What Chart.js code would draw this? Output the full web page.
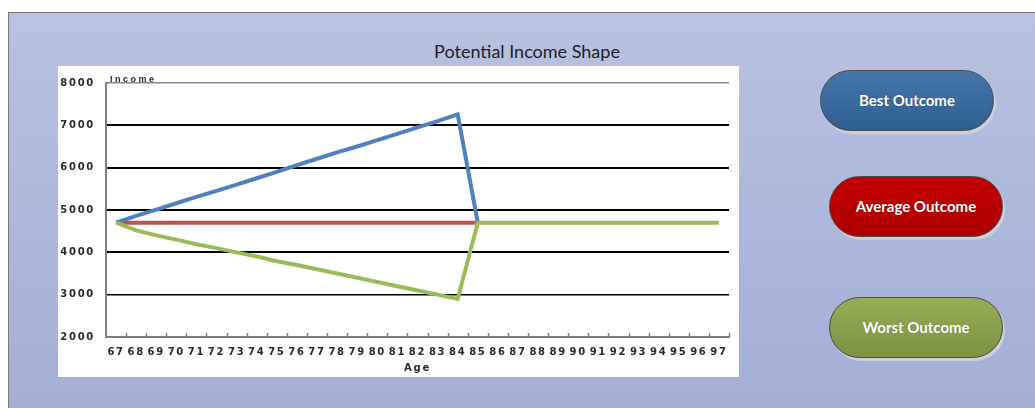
<!DOCTYPE html>
<html>
<head>
<meta charset="utf-8">
<title>Potential Income Shape</title>
<script src="https://cdn.jsdelivr.net/npm/chart.js@4.4.1/dist/chart.umd.min.js"></script>
<style>
  html, body { margin: 0; padding: 0; width: 1035px; height: 408px; overflow: hidden; background: #fff; }
  .panel {
    position: absolute; left: 8px; top: 12px; width: 1027px; height: 396px; box-sizing: border-box;
    border-top: 1.5px solid #7a7a7a; border-left: 1.5px solid #7a7a7a;
    background: linear-gradient(#b8c1e1, #a4afd6);
  }
  .title {
    position: absolute; left: 327px; width: 400px; top: 40px; line-height: 24px;
    text-align: center; font: 18px Lato, "Open Sans", sans-serif; color: #1e1e1e;
  }
  .chart-box { position: absolute; left: 58px; top: 66px; width: 681px; height: 311px; background: #fff; }
  .btn {
    position: absolute; width: 174px; height: 61px; box-sizing: border-box; border-radius: 31px;
    border: 1.5px solid #4a4a4a; box-shadow: 2px 3px 1px rgba(212, 212, 212, 0.9);
    color: #fff; font: bold 15px Lato, "Open Sans", sans-serif; text-align: center; line-height: 58px;
    text-shadow: 0 0 1px rgba(0, 0, 0, 0.3);
  }
  .best { left: 820px; top: 70px; background: linear-gradient(#4676a8, #2f5f8f); }
  .average { left: 829px; top: 176px; background: linear-gradient(#c40000, #ad0000); }
  .worst { left: 829px; top: 297px; background: linear-gradient(#98ad57, #7d9242); }
</style>
</head>
<body>
<div class="panel"></div>
<div class="title">Potential Income Shape</div>
<div class="chart-box"><canvas id="incomeChart"></canvas></div>
<div class="btn best">Best Outcome</div>
<div class="btn average">Average Outcome</div>
<div class="btn worst">Worst Outcome</div>

<script>
const ages = ['67','68','69','70','71','72','73','74','75','76','77','78','79','80','81','82',
  '83','84','85','86','87','88','89','90','91','92','93','94','95','96','97'];

const best = [4700, 4860, 5010, 5160, 5310, 5450, 5600, 5750, 5900, 6060, 6210, 6360, 6500, 6650,
  6800, 6950, 7100, 7260, 4700, null, null, null, null, null, null, null, null, null, null, null, null];

const average = [4700, 4700, 4700, 4700, 4700, 4700, 4700, 4700, 4700, 4700, 4700, 4700, 4700, 4700,
  4700, 4700, 4700, 4700, 4700, null, null, null, null, null, null, null, null, null, null, null, null];

const worst = [4700, 4520, 4400, 4300, 4190, 4100, 4000, 3900, 3790, 3700, 3600, 3500, 3400, 3300,
  3200, 3100, 3000, 2900, 4700, 4700, 4700, 4700, 4700, 4700, 4700, 4700, 4700, 4700, 4700, 4700, 4700];

const yTicks = [2000, 3000, 4000, 5000, 6000, 7000, 8000];

const labelFont = { family: '"DejaVu Sans", sans-serif', size: 10, weight: 'bold' };

// letter spaced labels, inside tick marks and the "Income" caption
const extras = {
  id: 'extras',
  beforeDraw(chart) {
    chart.ctx.letterSpacing = '1.7px';
  },
  afterDraw(chart) {
    const { ctx, chartArea, scales: { x } } = chart;
    ctx.save();
    ctx.strokeStyle = '#808080';
    ctx.lineWidth = 1.5;
    for (let i = 0; i <= ages.length; i++) {
      const px = Math.round(x.getPixelForValue(i - 0.5)) + 0.5;
      ctx.beginPath();
      ctx.moveTo(px, chartArea.bottom);
      ctx.lineTo(px, chartArea.bottom - 4);
      ctx.stroke();
    }
    ctx.letterSpacing = '2.5px';
    ctx.fillStyle = '#2a2a2a';
    ctx.font = 'bold 9px "Liberation Sans", Arial, sans-serif';
    ctx.textBaseline = 'bottom';
    ctx.textAlign = 'left';
    ctx.fillText('Income', chartArea.left + 4, chartArea.top + 1);
    ctx.restore();
  }
};

new Chart(document.getElementById('incomeChart'), {
  type: 'line',
  data: {
    labels: ages,
    datasets: [
      { label: 'Worst', data: worst, borderColor: '#9bbb59', order: 0 },
      { label: 'Best', data: best, borderColor: '#4f81bd', order: 1 },
      { label: 'Average', data: average, borderColor: '#c0504d', order: 2 }
    ]
  },
  options: {
    responsive: true,
    maintainAspectRatio: false,
    animation: false,
    layout: { padding: { left: 0, top: 8, right: 10, bottom: 0 } },
    elements: {
      line: { borderWidth: 4, tension: 0, fill: false },
      point: { radius: 0, hoverRadius: 0 }
    },
    plugins: {
      legend: { display: false },
      tooltip: { enabled: false }
    },
    scales: {
      x: {
        offset: true,
        grid: { display: false, offset: true },
        border: { display: true, color: '#808080', width: 2 },
        ticks: { color: '#2a2a2a', font: labelFont, padding: 1, autoSkip: false, maxRotation: 0 },
        title: { display: true, text: 'Age', color: '#2a2a2a', font: labelFont, padding: { top: 0, bottom: 3 } },
        afterFit(scale) { scale.height = 40; }
      },
      y: {
        min: yTicks[0],
        max: yTicks[yTicks.length - 1],
        afterBuildTicks(scale) { scale.ticks = yTicks.map(v => ({ value: v })); },
        grid: {
          drawTicks: false,
          color: ctx => ctx.tick && ctx.tick.value === 8000 ? '#8a8a8a' : '#000',
          lineWidth: ctx => {
            const v = ctx.tick ? ctx.tick.value : 0;
            if (v === 8000) return 1.5;
            if (v === 3000) return 1.5;
            return 2;
          }
        },
        border: { display: true, color: '#808080', width: 2 },
        ticks: { color: '#2a2a2a', font: labelFont, padding: 11, callback: v => String(v) },
        afterFit(scale) { scale.width = 48; }
      }
    }
  },
  plugins: [extras]
});
</script>
</body>
</html>
